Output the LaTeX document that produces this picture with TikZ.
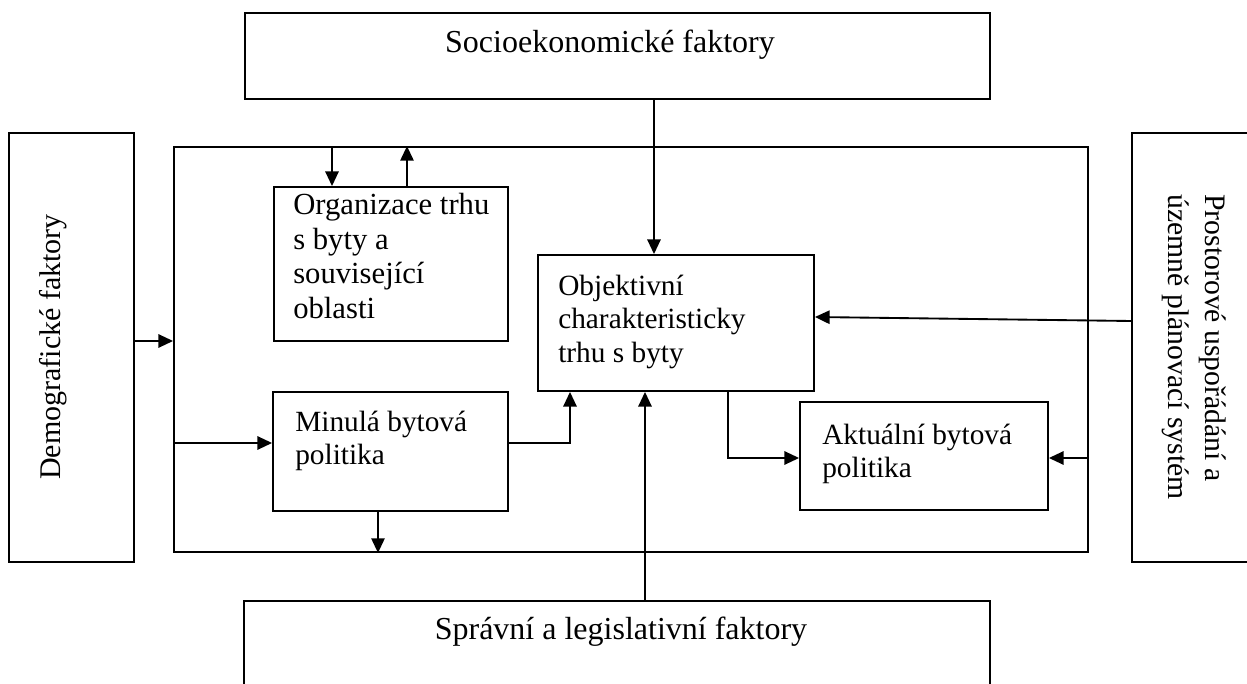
\documentclass[tikz,border=0pt]{standalone}
\usepackage{fontspec}
\setmainfont{Liberation Serif}
\usetikzlibrary{arrows.meta,fit}
\begin{document}
\begin{tikzpicture}[x=0.75pt,y=-0.75pt,
  box/.style={draw,line width=1.4pt,inner sep=0pt,rectangle},
  arr/.style={line width=1.4pt,-{Triangle[length=11pt,width=10pt]}},
  txt/.style={inner sep=0pt,align=left,font=\fontsize{22}{25}\selectfont,anchor=north west},
  title/.style={inner sep=0pt,font=\fontsize{24}{28}\selectfont,anchor=base}]
\useasboundingbox (0,0) rectangle (1247,684);
% boxes
\node[box,fit={(245,13)(990,99)}] (top) {};
\node[box,fit={(244,601)(990,720)}] (bot) {};
\node[box,fit={(9,133)(134,562)}] (dem) {};
\node[box,fit={(1132,133)(1300,562)}] (pro) {};
\node[box,fit={(174,147)(1088,552)}] (main) {};
\node[box,fit={(274,187)(508,341)}] (org) {};
\node[box,fit={(538,255)(814,391)}] (obj) {};
\node[box,fit={(273,392)(508,511)}] (min) {};
\node[box,fit={(800,402)(1048,510)}] (akt) {};
% texts
\node[title] (ttop) at (610,53) {Socioekonomické faktory};
\node[title] (tbot) at (621,639) {Správní a legislativní faktory};
\node[txt,font=\fontsize{23}{26}\selectfont] (torg) at (293,193) {Organizace trhu\\s byty a\\související\\oblasti};
\node[txt] (tobj) at (558,275) {Objektivní\\charakteristicky\\trhu s byty};
\node[txt] (tmin) at (295,411) {Minulá bytová\\politika};
\node[txt] (takt) at (822,424) {Aktuální bytová\\politika};
\node[inner sep=0pt,font=\fontsize{22.5}{25}\selectfont,rotate=90] (tdem) at (53,347) {Demografické faktory};
\node[inner sep=0pt,align=left,font=\fontsize{22.3}{28}\selectfont,rotate=-90] (tpro) at (1194,347) {Prostorové uspořádání a\\územně plánovací systém};
% connectors
\draw[arr] (top.south -| 654,0) -- (obj.north -| 654,0);
\draw[arr] (dem.east |- 0,341) -- (main.west |- 0,341);
\draw[arr] (main.west |- 0,443) -- (min.west |- 0,443);
\draw[arr] (min.east |- 0,443) -| (obj.south -| 570,0);
\draw[arr] (bot.north -| 645,0) -- (obj.south -| 645,0);
\draw[arr] (obj.south -| 728,0) |- (akt.west |- 0,458);
\draw[arr] (pro.west |- 0,321) -- (obj.east |- 0,317);
\draw[arr] (main.east |- 0,458) -- (akt.east |- 0,458);
\draw[arr] (main.north -| 332,0) -- (org.north -| 332,0);
\draw[arr] (org.north -| 407,0) -- (main.north -| 407,0);
\draw[arr] (min.south -| 378,0) -- (main.south -| 378,0);
\end{tikzpicture}
\end{document}
